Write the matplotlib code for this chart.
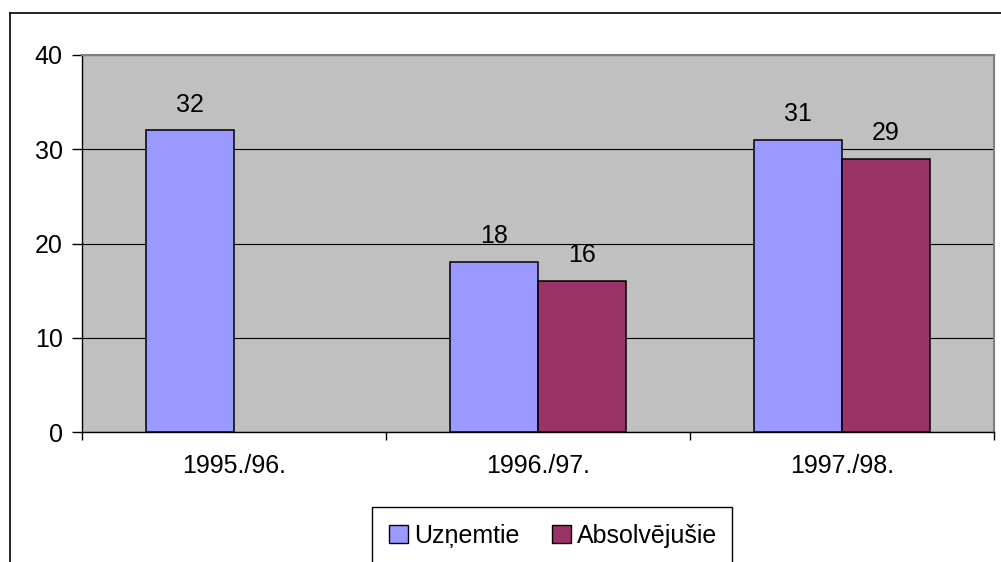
import matplotlib
matplotlib.use("Agg")
import matplotlib.pyplot as plt
import numpy as np
from matplotlib.lines import Line2D
from matplotlib.patches import Rectangle, Patch

plt.rcParams["font.family"] = ["Liberation Sans", "DejaVu Sans"]

years = ["1995./96.", "1996./97.", "1997./98."]
uznemtie = [32, 18, 31]
absolvejusie = [np.nan, 16, 29]
series_names = ["Uzņemtie", "Absolvējušie"]
colors = ["#9999FF", "#993366"]

W, H = 1001, 562
fig = plt.figure(figsize=(W / 100, H / 100), dpi=100)
fig.patch.set_facecolor("white")

# plot area in pixels: left 82, top 55, right 994, bottom 432
ax = fig.add_axes([82 / W, (H - 432) / H, 912 / W, 377 / H])
ax.set_facecolor("#C0C0C0")

x = np.arange(len(years))
bw = 0.29
for vals, off, col in [(uznemtie, -bw / 2, colors[0]), (absolvejusie, bw / 2, colors[1])]:
    ax.bar(x + off, vals, width=bw, color=col, edgecolor="black", linewidth=1.1, zorder=3)
    for xi, v in zip(x + off, vals):
        if np.isnan(v):
            continue
        ax.annotate(f"{v:g}", (xi, v), xytext=(0, 10), textcoords="offset points",
                    ha="center", va="bottom", fontsize=18)

ax.set_xlim(-0.5, 2.5)
ax.set_ylim(0, 40)
ax.set_yticks([0, 10, 20, 30, 40])
ax.yaxis.grid(True, color="black", linewidth=0.8, zorder=1)
ax.set_axisbelow(True)

# category labels centered, ticks between categories
ax.set_xticks(x)
ax.set_xticklabels(years, fontsize=18)
ax.tick_params(axis="x", which="major", length=0, pad=16)
ax.set_xticks([-0.5, 0.5, 1.5, 2.5], minor=True)
ax.tick_params(axis="x", which="minor", length=6, width=1, color="black", direction="out")
ax.tick_params(axis="y", labelsize=18, length=7, width=1, direction="out", pad=7)

for side in ["left", "bottom"]:
    ax.spines[side].set_color("black")
    ax.spines[side].set_linewidth(1.0)
for side in ["top", "right"]:
    ax.spines[side].set_color("#808080")
    ax.spines[side].set_linewidth(1.5)

# outer chart frame (partly outside the image)
fig.add_artist(Line2D([10 / W, 1.0], [(H - 13) / H, (H - 13) / H], color="black", linewidth=1.2))
fig.add_artist(Line2D([10 / W, 10 / W], [(H - 13) / H, 0], color="black", linewidth=1.2))

# legend box, bottom edge runs off the image
fig.add_artist(Rectangle((372 / W, -0.05), 360 / W, (H - 507) / H + 0.05,
                         transform=fig.transFigure, facecolor="white",
                         edgecolor="black", linewidth=1.0))
handles = [Patch(facecolor=c, edgecolor="black", linewidth=1.0) for c in colors]
fig.legend(handles, series_names, loc="center", bbox_to_anchor=(553 / W, (H - 536) / H),
           ncol=2, frameon=False, fontsize=18, handlelength=0.75, handleheight=0.75,
           handletextpad=0.25, columnspacing=1.3)

fig.savefig("out.png", dpi=100)
